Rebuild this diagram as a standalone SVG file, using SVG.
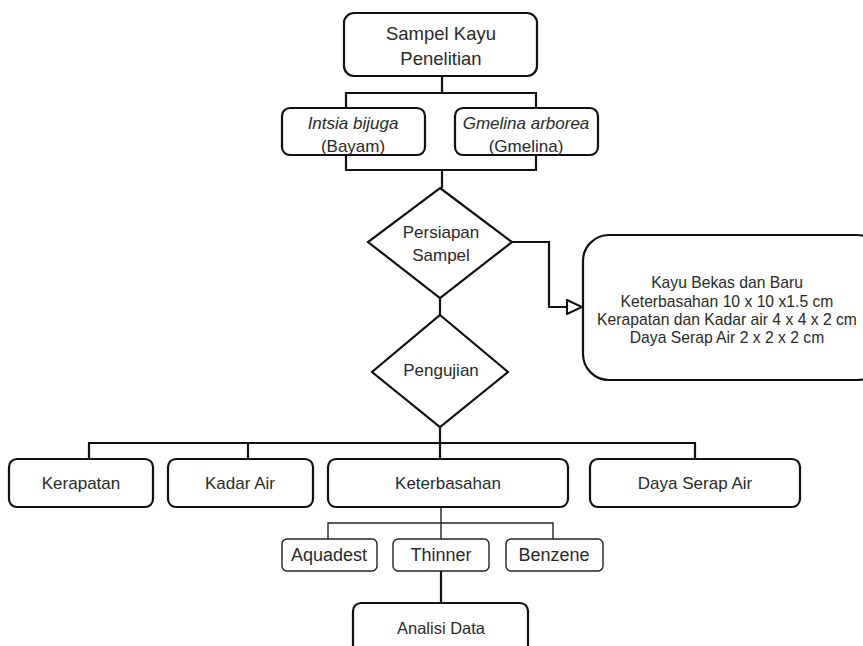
<svg xmlns="http://www.w3.org/2000/svg" width="863" height="646" viewBox="0 0 863 646">
<style>
.b{fill:#fff;stroke:#111;stroke-width:2.2}
.s{fill:#fff;stroke:#222;stroke-width:1.4}
.c{fill:none;stroke:#111;stroke-width:2.2}
.cs{fill:none;stroke:#222;stroke-width:1.4}
text{font-family:"Liberation Sans",Arial,sans-serif;fill:#2a2a2a;text-anchor:middle}
</style>
<defs>
<marker id="tri" markerWidth="20" markerHeight="16" refX="17" refY="8" orient="auto" markerUnits="userSpaceOnUse">
<path d="M2,1 L17,8 L2,15 Z" fill="#fff" stroke="#111" stroke-width="2"/>
</marker>
</defs>
<rect width="863" height="646" fill="#fff"/>
<g id="connectors">
<path class="c" d="M442,76 V93 M346,108 V93 H536 V108"/>
<path class="c" d="M346,155 V170 H536 V155 M442,170 V188"/>
<path class="c" d="M440,298 V315"/>
<path class="c" d="M512,242 H549 V307 H582" marker-end="url(#tri)"/>
<path class="c" d="M440,427 V443 M89,459 V443 H695 V459 M248,443 V459 M440,443 V459"/>
<path class="cs" d="M441,507 V539 M328,539 V523 H553 V539"/>
<path class="c" d="M441,571 V603"/>
</g>
<g id="sampel"><rect class="b" x="344" y="13" width="193" height="63" rx="10"/><text x="441" y="40" font-size="18.5">Sampel Kayu</text><text x="441" y="65" font-size="18.5">Penelitian</text></g>
<g id="intsia"><rect class="b" x="282" y="108" width="143" height="47" rx="8"/><text x="353" y="129" font-size="17" font-style="italic">Intsia bijuga</text><text x="353" y="152" font-size="17">(Bayam)</text></g>
<g id="gmelina"><rect class="b" x="455" y="108" width="143" height="47" rx="8"/><text x="526" y="129" font-size="17" font-style="italic">Gmelina arborea</text><text x="526" y="152" font-size="17">(Gmelina)</text></g>
<g id="persiapan"><path class="b" d="M440,188 L512,242 L440,298 L368,242 Z"/><text x="441" y="238" font-size="17">Persiapan</text><text x="441" y="261" font-size="17">Sampel</text></g>
<g id="ukuran"><rect class="b" x="583" y="235" width="300" height="145" rx="26"/><text x="727" y="288" font-size="15.7">Kayu Bekas dan Baru</text><text x="727" y="307" font-size="15.7">Keterbasahan 10 x 10 x1.5 cm</text><text x="727" y="325" font-size="15.7">Kerapatan dan Kadar air 4 x 4 x 2 cm</text><text x="727" y="343" font-size="15.7">Daya Serap Air 2 x 2 x 2 cm</text></g>
<g id="pengujian"><path class="b" d="M440,315 L508,372 L440,427 L372,372 Z"/><text x="441" y="376" font-size="17">Pengujian</text></g>
<g id="kerapatan"><rect class="b" x="9" y="459" width="144" height="48" rx="8"/><text x="81" y="489" font-size="17">Kerapatan</text></g>
<g id="kadar"><rect class="b" x="168" y="459" width="145" height="48" rx="8"/><text x="240" y="489" font-size="17">Kadar Air</text></g>
<g id="keterbasahan"><rect class="b" x="328" y="459" width="240" height="48" rx="8"/><text x="448" y="489" font-size="17">Keterbasahan</text></g>
<g id="daya"><rect class="b" x="590" y="459" width="210" height="48" rx="8"/><text x="695" y="489" font-size="17">Daya Serap Air</text></g>
<g id="aquadest"><rect class="s" x="282" y="539" width="95" height="32" rx="5"/><text x="329" y="561" font-size="18">Aquadest</text></g>
<g id="thinner"><rect class="s" x="393" y="539" width="96" height="32" rx="5"/><text x="441" y="561" font-size="18">Thinner</text></g>
<g id="benzene"><rect class="s" x="506" y="539" width="97" height="32" rx="5"/><text x="554" y="561" font-size="18">Benzene</text></g>
<g id="analisi"><rect class="b" x="353" y="603" width="175" height="60" rx="8"/><text x="441" y="634" font-size="16.5">Analisi Data</text></g>
</svg>
